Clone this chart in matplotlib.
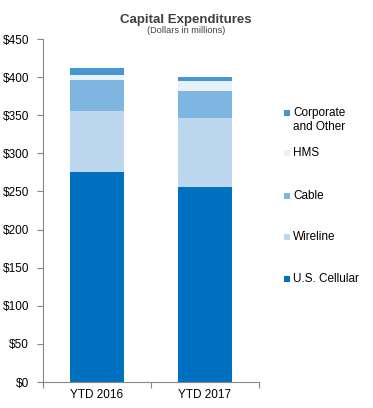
import matplotlib
matplotlib.use("Agg")
import matplotlib.pyplot as plt
from matplotlib.patches import Rectangle

categories = ["YTD 2016", "YTD 2017"]
us_cellular = [275, 256]
wireline = [81, 90]
cable = [40, 36]
hms = [7, 13]
corporate = [9, 5]
yticks = [0, 50, 100, 150, 200, 250, 300, 350, 400, 450]

series = [
    ("U.S. Cellular", us_cellular, "#0070C0"),
    ("Wireline", wireline, "#BDD7EE"),
    ("Cable", cable, "#7FB6E1"),
    ("HMS", hms, "#E7F1FA"),
    ("Corporate\nand Other", corporate, "#4596D1"),
]

plt.rcParams['font.family'] = ['Liberation Sans', 'DejaVu Sans']
W, H = 373, 408
fig = plt.figure(figsize=(W / 100, H / 100), dpi=100)
ax = fig.add_axes([0.1153, 0.0637, 0.579, 0.8407])

x = list(range(len(categories)))
bottom = [0] * len(categories)
for name, vals, col in series:
    ax.bar(x, vals, width=0.5, bottom=bottom, color=col, label=name)
    bottom = [b + v for b, v in zip(bottom, vals)]

ax.set_xlim(-0.5, 1.5)
ax.set_ylim(0, 450)
ax.set_yticks(yticks)
ax.set_yticklabels([f"${v}" for v in yticks], fontsize=8.5, color="#000000")
ax.set_xticks([-0.5, 0.5, 1.5])
ax.set_xticklabels([])
ax.set_xticks(x, minor=True)
ax.set_xticklabels(categories, minor=True, fontsize=8.5)
ax.tick_params(axis='x', which='minor', length=0, pad=5)
ax.tick_params(axis='x', which='major', length=4, color="#868686", direction='out')
ax.tick_params(axis='y', length=4, color="#868686", direction='out', pad=6)
for s in ['top', 'right']:
    ax.spines[s].set_visible(False)
for s in ['left', 'bottom']:
    ax.spines[s].set_color("#868686")

# manual legend (top to bottom), first-line aligned like the reference
legend_y_px = [113, 153, 196, 237, 279]
for (name, vals, col), ypx in zip(series[::-1], legend_y_px):
    yf = 1 - ypx / H
    fig.patches.append(Rectangle((284 / W, yf - 2.8 / H), 5.5 / W, 5.5 / H,
                                 transform=fig.transFigure, facecolor=col,
                                 edgecolor='none'))
    lines = name.split("\n")
    for i, ln in enumerate(lines):
        fig.text(293 / W, 1 - (ypx + i * 13.5) / H, ln, ha='left', va='center',
                 fontsize=8.5, color="#000000")

fig.text(0.4987, 0.951, "Capital Expenditures", ha='center', va='center',
         fontsize=9.5, fontweight='bold', color="#404040")
fig.text(0.4987, 0.926, "(Dollars in millions)", ha='center', va='center',
         fontsize=6.6, color="#404040")

fig.savefig("out.png", dpi=100)
